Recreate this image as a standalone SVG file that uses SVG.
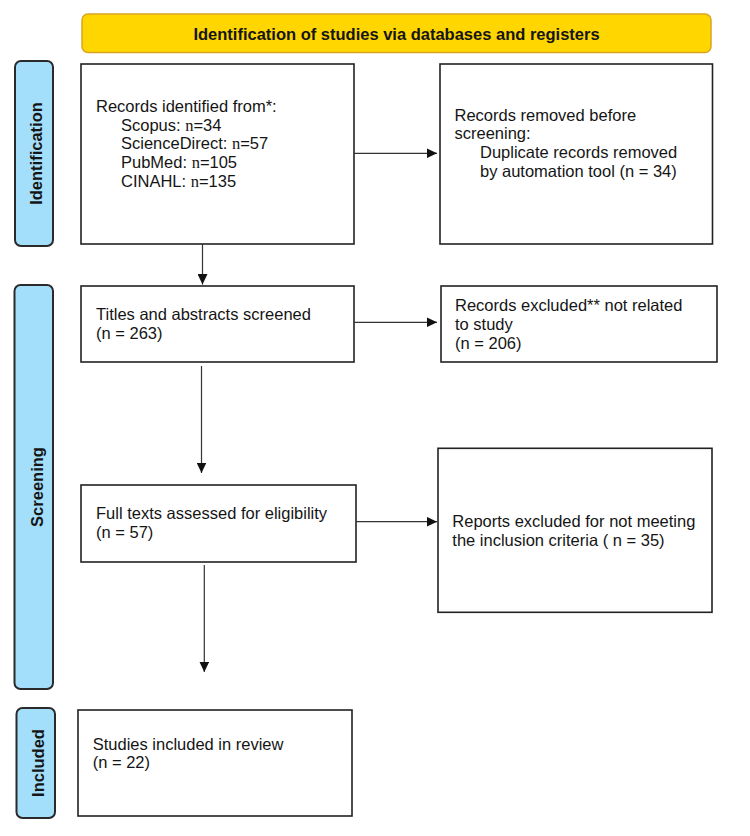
<svg xmlns="http://www.w3.org/2000/svg" width="750" height="836" viewBox="0 0 750 836">
<defs>
<style>
.box{fill:#fff;stroke:#222;stroke-width:1.6}
.lab{fill:#A3DEFB;stroke:#2a2a2a;stroke-width:2}
.t{font-family:"Liberation Sans",Arial,sans-serif;font-size:16.5px;fill:#151515}
.lt{font-family:"Liberation Sans",Arial,sans-serif;font-size:16.5px;font-weight:bold;fill:#151515;text-anchor:middle}
.tt{font-family:"Liberation Sans",Arial,sans-serif;font-size:16.5px;font-weight:bold;fill:#151515;text-anchor:middle}
.s{font-family:"Liberation Serif","Times New Roman",serif}
.c{stroke:#333;stroke-width:1.2;fill:none;marker-end:url(#ah)}
</style>
<marker id="ah" markerUnits="userSpaceOnUse" markerWidth="11" markerHeight="10" refX="10.5" refY="5" orient="auto">
<path d="M0,0 L10.5,5 L0,10 z" fill="#111"/>
</marker>
</defs>
<rect width="750" height="836" fill="#fff"/>

<g id="title">
<rect x="82" y="14" width="629" height="38.5" rx="6" fill="#FFD600" stroke="#D9A520" stroke-width="1.5"/>
<text class="tt" x="396.5" y="39.5">Identification of studies via databases and registers</text>
</g>

<g id="label-identification">
<rect class="lab" x="15" y="61" width="38" height="185" rx="6"/>
<text class="lt" transform="translate(42,153.5) rotate(-90)">Identification</text>
</g>
<g id="label-screening">
<rect class="lab" x="14.5" y="285" width="38.5" height="404" rx="6"/>
<text class="lt" transform="translate(42.5,487) rotate(-90)">Screening</text>
</g>
<g id="label-included">
<rect class="lab" x="16.5" y="708" width="38.5" height="110" rx="6"/>
<text class="lt" transform="translate(43.5,763) rotate(-90)">Included</text>
</g>

<g id="records-identified">
<rect class="box" x="81" y="64" width="273" height="180"/>
<text class="t" x="96" y="111.7">Records identified from*:</text>
<text class="t" x="121" y="130.5">Scopus: <tspan class="s">n</tspan>=34</text>
<text class="t" x="121" y="149.3">ScienceDirect: <tspan class="s">n</tspan>=57</text>
<text class="t" x="121" y="168">PubMed: <tspan class="s">n</tspan>=105</text>
<text class="t" x="121" y="187">CINAHL: <tspan class="s">n</tspan>=135</text>
</g>

<g id="records-removed">
<rect class="box" x="440" y="64" width="272.5" height="180"/>
<text class="t" x="454.5" y="120.7">Records removed before</text>
<text class="t" x="454.5" y="139.3">screening:</text>
<text class="t" x="480" y="158">Duplicate records removed</text>
<text class="t" x="480" y="176.7">by automation tool (n = 34)</text>
</g>

<g id="titles-screened">
<rect class="box" x="81" y="286" width="273" height="76"/>
<text class="t" x="96" y="320">Titles and abstracts screened</text>
<text class="t" x="96" y="338.5">(n = 263)</text>
</g>

<g id="records-excluded">
<rect class="box" x="441" y="286" width="276" height="76"/>
<text class="t" x="455" y="310.7">Records excluded** not related</text>
<text class="t" x="455" y="329.5">to study</text>
<text class="t" x="455" y="348.5">(n = 206)</text>
</g>

<g id="full-texts">
<rect class="box" x="81" y="485" width="275" height="77"/>
<text class="t" x="96" y="519.3">Full texts assessed for eligibility</text>
<text class="t" x="96" y="538.3">(n = 57)</text>
</g>

<g id="reports-excluded">
<rect class="box" x="438" y="448.3" width="274" height="164"/>
<text class="t" x="452.3" y="527.3">Reports excluded for not meeting</text>
<text class="t" x="452.3" y="545.5">the inclusion criteria ( n = 35)</text>
</g>

<g id="studies-included">
<rect class="box" x="78" y="710" width="274" height="106"/>
<text class="t" x="92.7" y="750">Studies included in review</text>
<text class="t" x="92.7" y="767.7">(n = 22)</text>
</g>

<g id="connectors">
<line class="c" x1="354" y1="153.3" x2="437" y2="153.3"/>
<line class="c" x1="202.5" y1="244" x2="202.5" y2="284.5"/>
<line class="c" x1="354" y1="322.3" x2="437" y2="322.3"/>
<line class="c" x1="201.5" y1="366" x2="201.5" y2="473"/>
<line class="c" x1="356" y1="521.7" x2="437" y2="521.7"/>
<line class="c" x1="204.3" y1="565" x2="204.3" y2="672"/>
</g>
</svg>
